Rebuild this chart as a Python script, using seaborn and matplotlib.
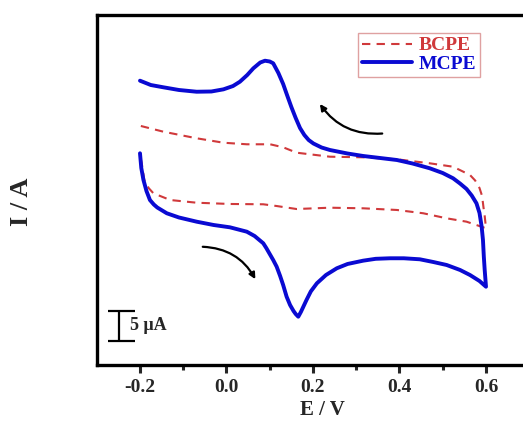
import matplotlib
matplotlib.use("Agg")
import matplotlib.pyplot as plt
import seaborn as sns
import pandas as pd
from matplotlib.patches import FancyArrowPatch
from matplotlib.ticker import MultipleLocator

# ---- data (E in V, I in microampere, arbitrary offset) ----
mcpe_E = [-0.200, -0.175, -0.146, -0.110, -0.069, -0.035, -0.007, 0.015, 0.031, 0.048,
          0.062, 0.078, 0.089, 0.100, 0.108, 0.120, 0.131, 0.140, 0.150, 0.160,
          0.170, 0.180, 0.190, 0.201, 0.220, 0.239, 0.280, 0.316, 0.394, 0.430,
          0.470, 0.500, 0.524, 0.540, 0.555, 0.567, 0.578, 0.585, 0.590, 0.593,
          0.595, 0.597, 0.600,
          0.585, 0.563, 0.540, 0.509, 0.478, 0.447, 0.410, 0.378, 0.345, 0.316,
          0.280, 0.255, 0.230, 0.209, 0.195, 0.185, 0.172, 0.166,
          0.160, 0.155, 0.147, 0.139, 0.131, 0.124, 0.116, 0.108, 0.100, 0.092,
          0.085, 0.065, 0.047, 0.008, -0.030, -0.069, -0.110, -0.138, -0.160,
          -0.168, -0.177, -0.185, -0.192, -0.197, -0.200]
mcpe_I = [18.22, 17.50, 17.12, 16.67, 16.38, 16.42, 16.78, 17.33, 18.05, 19.17,
          20.28, 21.25, 21.55, 21.42, 21.12, 19.50, 17.67, 15.83, 13.83, 12.00,
          10.33, 9.17, 8.33, 7.75, 7.08, 6.67, 6.08, 5.67, 5.00, 4.42,
          3.62, 2.83, 1.95, 1.08, 0.17, -0.92, -2.22, -3.83, -6.12, -8.33,
          -11.12, -13.33, -16.12,
          -15.17, -14.17, -13.33, -12.50, -12.00, -11.55, -11.38, -11.38, -11.47, -11.78,
          -12.33, -13.05, -14.17, -15.55, -16.90, -18.33, -20.33, -21.12,
          -20.67, -20.17, -19.17, -17.78, -15.83, -14.33, -12.78, -11.67, -10.67, -9.67,
          -8.88, -7.67, -6.95, -6.22, -5.83, -5.28, -4.58, -3.88, -2.92,
          -2.42, -1.67, -0.17, 1.67, 3.67, 6.12]

bcpe_E = [-0.198, -0.146, -0.069, -0.007, 0.047, 0.101, 0.131, 0.162, 0.239, 0.316,
          0.394, 0.470, 0.524, 0.563, 0.575, 0.585, 0.591, 0.594, 0.597, 0.600,
          0.555, 0.509, 0.455, 0.394, 0.316, 0.239, 0.162, 0.116, 0.085, 0.008,
          -0.069, -0.130, -0.169, -0.180, -0.190, -0.196, -0.200]
bcpe_I = [10.67, 9.72, 8.62, 7.88, 7.62, 7.62, 7.12, 6.22, 5.55, 5.45,
          5.12, 4.45, 3.88, 2.50, 1.58, 0.33, -1.00, -2.78, -4.33, -6.38,
          -5.28, -4.72, -3.88, -3.33, -3.05, -2.95, -3.17, -2.67, -2.38, -2.33,
          -2.12, -1.67, -0.55, 0.33, 1.67, 4.45, 5.83]

x_ticks = [-0.2, 0.0, 0.2, 0.4, 0.6]
x_tick_labels = ["-0.2", "0.0", "0.2", "0.4", "0.6"]

sns.set_style("white")
plt.rcParams["font.family"] = ["Liberation Serif", "DejaVu Serif"]
plt.rcParams["font.weight"] = "bold"

fig = plt.figure(figsize=(5.23, 4.29), dpi=100)
ax_w_px = 450.0
ax = fig.add_axes([97 / 523, 1 - 365 / 429, ax_w_px / 523, 350 / 429])

df_b = pd.DataFrame({"E": bcpe_E, "I": bcpe_I})
df_m = pd.DataFrame({"E": mcpe_E, "I": mcpe_I})

sns.lineplot(data=df_b, x="E", y="I", sort=False, estimator=None, ax=ax,
             color="#d0393b", linewidth=1.5, linestyle=(0, (4, 3)), label="BCPE")
sns.lineplot(data=df_m, x="E", y="I", sort=False, estimator=None, ax=ax,
             color="#0a0ad2", linewidth=2.8, label="MCPE")

xmin = -0.2994
ax.set_xlim(xmin, xmin + ax_w_px / 432.5)
ax.set_ylim(-29.17, 29.17)
ax.set_xticks(x_ticks)
ax.set_xticklabels(x_tick_labels, fontsize=14, fontweight="bold")
ax.xaxis.set_minor_locator(MultipleLocator(0.1))
ax.tick_params(axis="x", which="major", direction="out", length=6, width=2.2, bottom=True, pad=4)
ax.tick_params(axis="x", which="minor", direction="out", length=3.5, width=2.2, bottom=True)
ax.set_yticks([])
for sp in ax.spines.values():
    sp.set_linewidth(2.4)
    sp.set_color("black")
ax.spines["right"].set_visible(False)

ax.set_xlabel("E / V", fontsize=15, fontweight="bold", labelpad=3)
ax.set_ylabel("I / A", fontsize=19, fontweight="bold")
ax.yaxis.set_label_coords(-0.148 * 432.25 / ax_w_px, 0.466)

leg = ax.legend(loc="upper left", bbox_to_anchor=(261 / ax_w_px, 0.949), fontsize=14,
                frameon=True, fancybox=False, handlelength=2.6, handletextpad=0.3,
                labelspacing=0.05, borderpad=0.2, borderaxespad=0,
                labelcolor="linecolor")
leg.get_frame().set_edgecolor("#d88a8a")
leg.get_frame().set_linewidth(1.0)
for t in leg.get_texts():
    t.set_fontweight("bold")

# scan-direction arrows
ax.add_patch(FancyArrowPatch((0.3665, 9.45), (0.2123, 14.72),
                             connectionstyle="arc3,rad=-0.3", arrowstyle="-|>",
                             mutation_scale=9, lw=1.6, color="black"))
ax.add_patch(FancyArrowPatch((-0.0613, -9.45), (0.0698, -15.28),
                             connectionstyle="arc3,rad=-0.3", arrowstyle="-|>",
                             mutation_scale=9, lw=1.6, color="black"))

# scale bar 5 uA
sx = -0.2479
ax.vlines(sx, -25.1, -20.1, color="black", lw=1.6)
ax.hlines([-20.1, -25.1], sx - 0.026, sx + 0.036, color="black", lw=1.6)
ax.text(sx + 0.025, -22.6, "5 μA", fontsize=13, fontweight="bold", va="center", ha="left")

fig.savefig("out.png", dpi=100)
